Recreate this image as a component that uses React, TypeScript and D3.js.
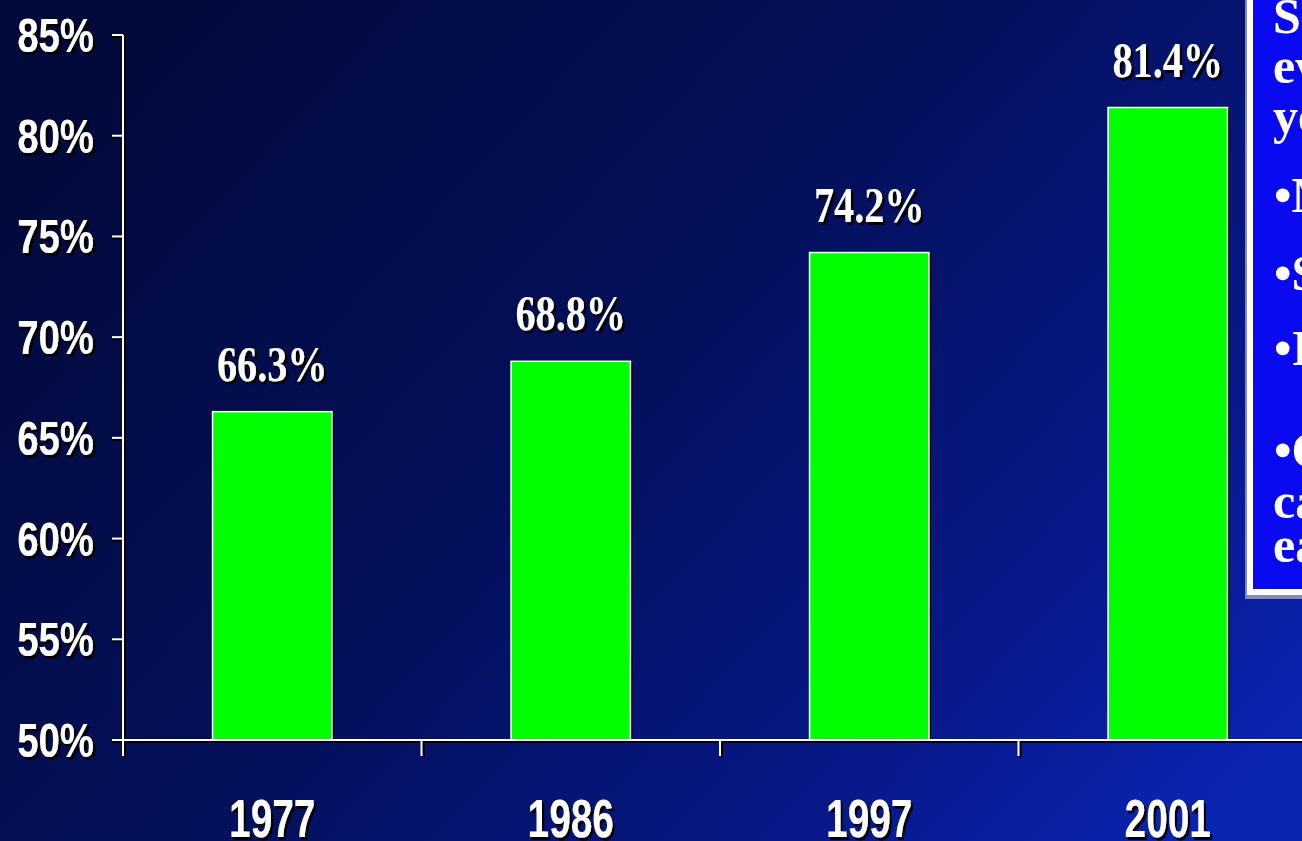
import React from "react";
import * as d3 from "d3";

const years = ["1977", "1986", "1997", "2001"];
const values = [66.3, 68.8, 74.2, 81.4];
const valueLabels = ["66.3%", "68.8%", "74.2%", "81.4%"];
const yTicks = [50, 55, 60, 65, 70, 75, 80, 85];
const boxLines = ["Share", "every", "year"];
const boxBullets = ["•Men", "•Smokers", "•Insured", "•Older"];
const boxTail = ["care", "early"];

const W = 1302;
const H = 841;

export default function App() {
  const y = d3.scaleLinear().domain([50, 85]).range([740, 35]);
  const x = d3.scaleBand<string>().domain(years).range([123, 1317]).paddingInner(0.6).paddingOuter(0.3);
  const step = x.step();
  const bandEdges = years.map((_, i) => 123 + i * step);

  const shadowText = (
    key: string,
    tx: number,
    ty: number,
    txt: string,
    opts: { size: number; family: string; anchor: string; sx: number }
  ) => (
    <g key={key} transform={`translate(${tx},${ty}) scale(${opts.sx},1)`}>
      <text x={0} y={0} fill="#fff" fontSize={opts.size} fontFamily={opts.family} fontWeight="bold" textAnchor={opts.anchor as any} filter="url(#ds)">{txt}</text>
    </g>
  );

  const sans = "'Liberation Sans', Arial, sans-serif";
  const serif = "'Liberation Serif', 'Times New Roman', serif";

  return (
    <svg width={W} height={H} style={{ position: "absolute", left: 0, top: 0, display: "block" }}>
      <defs>
        <linearGradient id="bg" x1="0" y1="0.25" x2="1" y2="0.85">
          <stop offset="0" stopColor="#020a3c" />
          <stop offset="0.45" stopColor="#04105c" />
          <stop offset="0.8" stopColor="#07198c" />
          <stop offset="1" stopColor="#0a24b2" />
        </linearGradient>
        <filter id="ds" x="-10%" y="-10%" width="130%" height="130%">
          <feDropShadow dx={3} dy={3} stdDeviation={0} floodColor="#000" floodOpacity={1} />
        </filter>
        <clipPath id="clip">
          <rect x={0} y={0} width={W} height={H} />
        </clipPath>
      </defs>
      <g clipPath="url(#clip)">
        <rect x={0} y={0} width={W} height={H} fill="url(#bg)" />

        {years.map((yr, i) => {
          const bx = x(yr)!;
          const bw = x.bandwidth();
          const top = y(values[i]);
          return (
            <g key={yr}>
              <rect x={bx + 2} y={top + 2} width={bw} height={740 - top} fill="#000" />
              <rect x={bx} y={top} width={bw} height={740 - top} fill="#00ff00" stroke="#fff" strokeWidth={1.5} />
            </g>
          );
        })}

        <line x1={125} y1={35} x2={125} y2={756} stroke="#000" strokeWidth={2} />
        <line x1={123} y1={742} x2={1320} y2={742} stroke="#000" strokeWidth={2} />
        {yTicks.map((t) => (
          <line key={"ys" + t} x1={112} x2={123} y1={y(t) + 2} y2={y(t) + 2} stroke="#000" strokeWidth={2} />
        ))}
        {bandEdges.map((e, i) => (
          <line key={"xs" + i} x1={e + 2} x2={e + 2} y1={740} y2={758} stroke="#000" strokeWidth={2} />
        ))}
        <line x1={123} y1={35} x2={123} y2={754} stroke="#fff" strokeWidth={2} />
        <line x1={112} y1={740} x2={1320} y2={740} stroke="#fff" strokeWidth={2} />
        {yTicks.map((t) => (
          <line key={"y" + t} x1={112} x2={123} y1={y(t)} y2={y(t)} stroke="#fff" strokeWidth={2} />
        ))}
        {bandEdges.map((e, i) => (
          <line key={"x" + i} x1={e} x2={e} y1={740} y2={756} stroke="#fff" strokeWidth={2} />
        ))}

        {yTicks.map((t) =>
          shadowText("yl" + t, 94, y(t) + 17, `${t}%`, { size: 48, family: sans, anchor: "end", sx: 0.8 })
        )}

        {years.map((yr) =>
          shadowText("xl" + yr, x(yr)! + x.bandwidth() / 2, 837, yr, { size: 54, family: sans, anchor: "middle", sx: 0.72 })
        )}

        {years.map((yr, i) =>
          shadowText("vl" + yr, x(yr)! + x.bandwidth() / 2, y(values[i]) - 31, valueLabels[i], { size: 51, family: serif, anchor: "middle", sx: 0.79 })
        )}

        <rect x={1245} y={-10} width={80} height={609} fill="#8888aa" />
        <rect x={1247} y={-10} width={80} height={605} fill="#ffffff" />
        <rect x={1253} y={-10} width={80} height={599} fill="#0a0af0" />
        {boxLines.map((s, i) => (
          <text key={"bl" + i} x={1273} y={33 + i * 50} fill="#fff" fontFamily={serif} fontWeight="bold" fontSize={50}>{s}</text>
        ))}
        {boxBullets.map((s, i) => (
          <text key={"bb" + i} x={1274} y={[212, 290, 365, 467][i]} fill="#fff" fontFamily={serif} fontWeight="bold" fontSize={50}>{s}</text>
        ))}
        {boxTail.map((s, i) => (
          <text key={"bt" + i} x={1273} y={[518, 562][i]} fill="#fff" fontFamily={serif} fontWeight="bold" fontSize={50}>{s}</text>
        ))}
      </g>
    </svg>
  );
}
